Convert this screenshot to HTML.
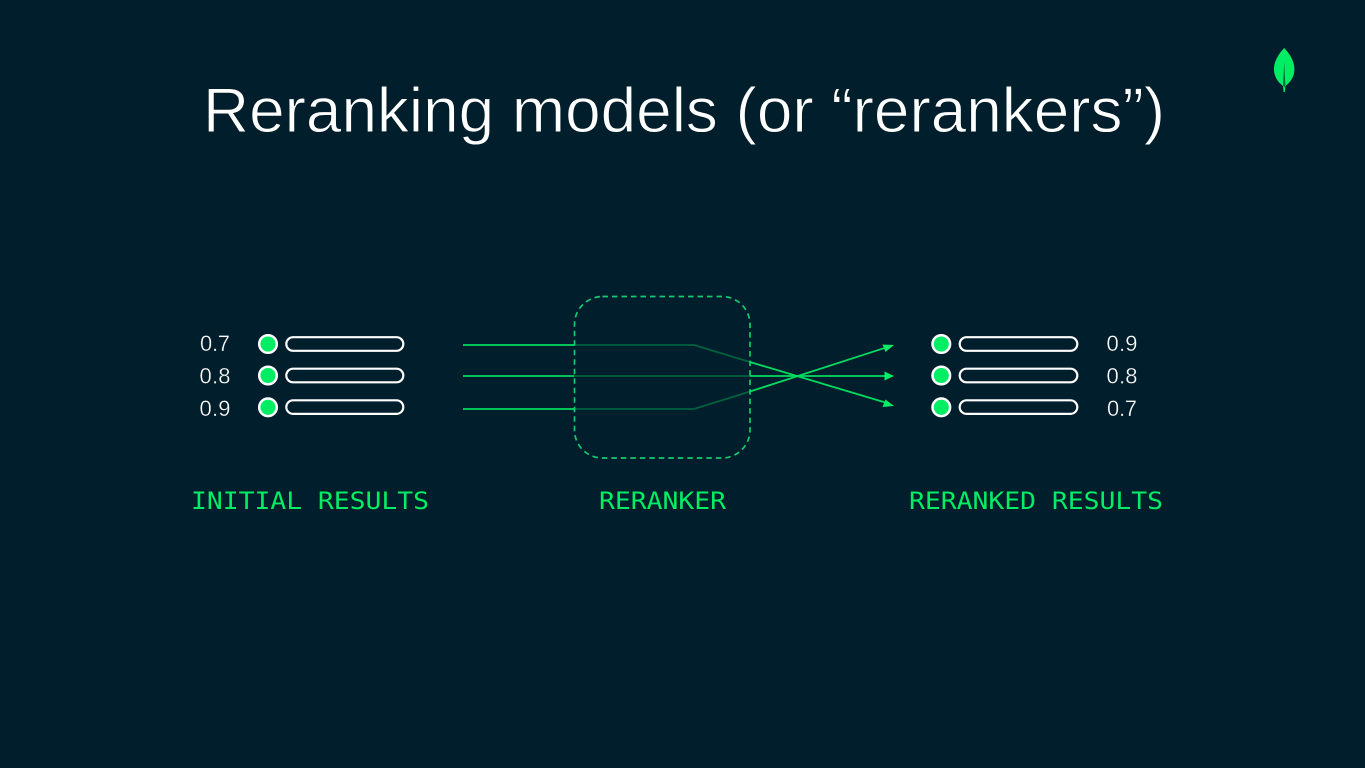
<!DOCTYPE html>
<html lang="en">
<head>
<meta charset="utf-8">
<title>Reranking models</title>
<style>
html,body{margin:0;padding:0;background:#001E2B;width:1365px;height:768px;overflow:hidden}
svg{display:block}
.num{font-family:"Liberation Sans",sans-serif;font-size:22px;fill:#fff;stroke:#001E2B;stroke-width:.35px}
.lab{font-family:"DejaVu Sans Mono","Liberation Mono",monospace;font-size:24.300px;fill:#00ED64}
</style>
</head>
<body>
<svg width="1365" height="768" viewBox="0 0 1365 768" xmlns="http://www.w3.org/2000/svg">
<rect width="1365" height="768" fill="#001E2B"/>
<text x="203" y="132" font-family="'Liberation Sans',sans-serif" font-size="63" fill="#fff" stroke="#001E2B" stroke-width=".9" textLength="962" lengthAdjust="spacingAndGlyphs">Reranking models (or “rerankers”)</text>

<!-- leaf -->
<path d="M1284.200 48C1280 52.500 1274 60 1274 69.500C1274 77.500 1279 83 1283 86L1283.600 92H1284.800L1285.400 86C1289.500 83 1294.400 77.500 1294.400 69.500C1294.400 60 1288.500 52.500 1284.200 48Z" fill="#00ED64"/>
<path d="M1284.200 62L1283 85L1284.200 87.500L1285.400 85Z" fill="#006B3C"/>

<!-- left list -->
<text class="num" x="200" y="351" textLength="30">0.7</text>
<text class="num" x="199.500" y="383.500" textLength="31">0.8</text>
<text class="num" x="199.500" y="416" textLength="31">0.9</text>
<g fill="#00ED64" stroke="#fff" stroke-width="2.500">
<circle cx="268" cy="344" r="8.800"/>
<circle cx="268" cy="375.500" r="8.800"/>
<circle cx="268" cy="407.300" r="8.800"/>
<circle cx="941.300" cy="344" r="8.800"/>
<circle cx="941.300" cy="375.500" r="8.800"/>
<circle cx="941.300" cy="407.300" r="8.800"/>
</g>
<g fill="none" stroke="#fff" stroke-width="2.200">
<rect x="286.300" y="337.200" width="117" height="13.600" rx="6.800"/>
<rect x="286.300" y="368.700" width="117" height="13.600" rx="6.800"/>
<rect x="286.300" y="400.300" width="117" height="13.600" rx="6.800"/>
<rect x="959.700" y="337.200" width="117.600" height="13.600" rx="6.800"/>
<rect x="959.700" y="368.700" width="117.600" height="13.600" rx="6.800"/>
<rect x="959.700" y="400.300" width="117.600" height="13.600" rx="6.800"/>
</g>

<!-- right numbers -->
<text class="num" x="1106.500" y="351" textLength="31">0.9</text>
<text class="num" x="1106.500" y="383.500" textLength="31">0.8</text>
<text class="num" x="1107" y="416" textLength="30">0.7</text>

<!-- bright connector segments -->
<g fill="none" stroke="#00ED64" stroke-width="1.800" opacity=".92">
<path d="M463 345H574"/>
<path d="M463 376H574"/>
<path d="M463 409H574"/>
<path d="M750 362L887 403"/>
<path d="M750 376H887"/>
<path d="M750 391.500L887 347.200"/>
</g>
<!-- dim connector segments -->
<g fill="none" stroke="#00ED64" stroke-width="1.800" opacity=".32">
<path d="M574 345H694L750 362"/>
<path d="M574 376H750"/>
<path d="M574 409H694L750 391.500"/>
</g>
<!-- arrowheads -->
<g fill="#00ED64">
<path d="M894 376L884.500 371.500V380.500Z"/>
<path d="M894 406L885.500 399.500L882.500 407Z"/>
<path d="M894 345L882.500 344.500L885.500 352Z"/>
</g>

<!-- reranker box -->
<rect x="574.500" y="296.500" width="175.500" height="161.500" rx="28" fill="none" stroke="#14DE78" stroke-opacity=".9" stroke-width="1.700" stroke-dasharray="5.500 4"/>

<!-- labels -->
<text class="lab" x="191" y="509" textLength="238" lengthAdjust="spacingAndGlyphs">INITIAL RESULTS</text>
<text class="lab" x="599" y="509" textLength="127" lengthAdjust="spacingAndGlyphs">RERANKER</text>
<text class="lab" x="909" y="509" textLength="254" lengthAdjust="spacingAndGlyphs">RERANKED RESULTS</text>
</svg>
</body>
</html>
